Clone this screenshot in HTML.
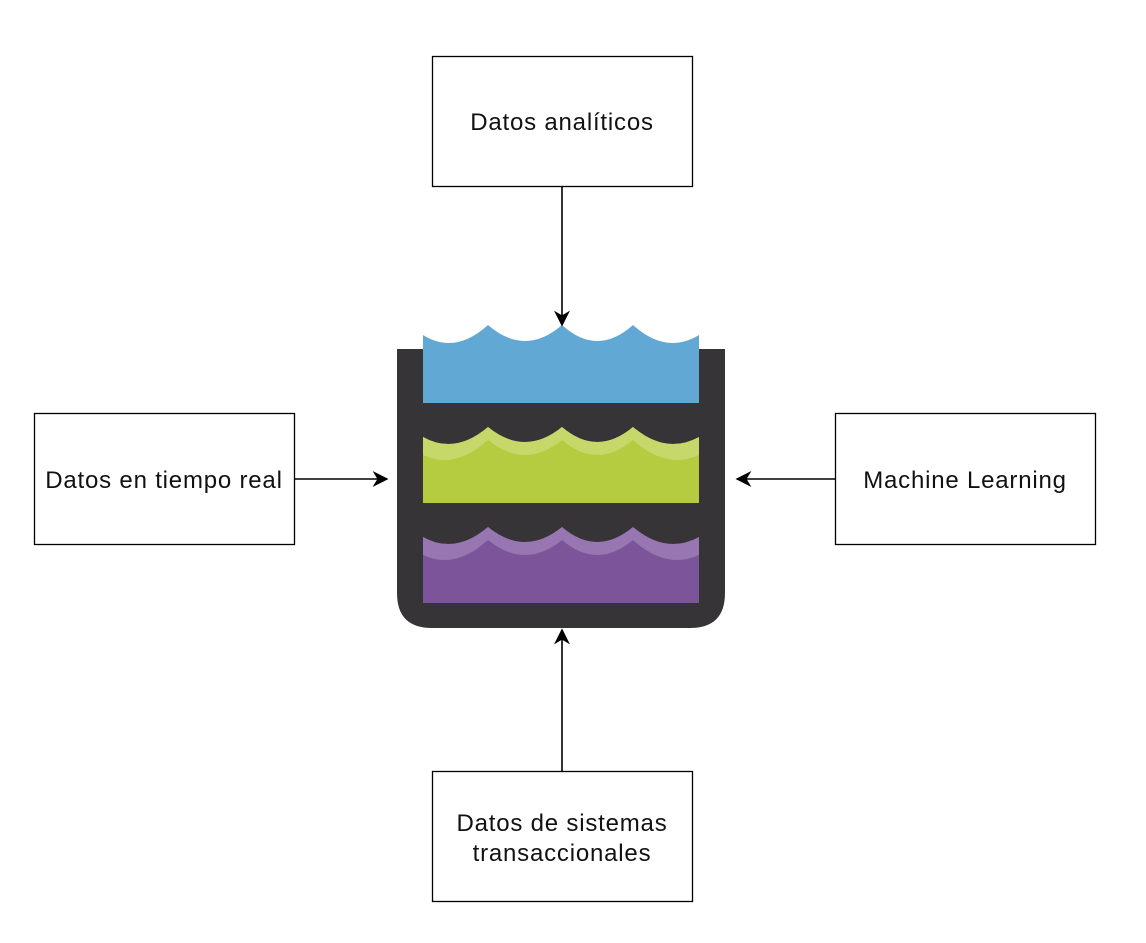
<!DOCTYPE html>
<html><head><style>
body{margin:0;background:#fff;}
svg{display:block;}
text{font-family:"Liberation Sans",Arial,sans-serif;font-size:24px;letter-spacing:0.8px;fill:#111;}
</style></head><body>
<svg width="1146" height="943" viewBox="0 0 1146 943">
<defs>
<marker id="b" viewBox="0 0 10 10" markerWidth="16" markerHeight="16" refX="9" refY="5" orient="auto" markerUnits="userSpaceOnUse"><path d="M0,0 L10,5 L0,10 L3,5 z" fill="#000"/></marker></defs>
<path d="M397,349 H725 V593 Q725,628 690,628 H432 Q397,628 397,593 Z" fill="#363437"/>
<path d="M423,403 V335 Q455,355 488,325 Q525,357 562,325 Q597,357 633,325 Q666,355 699,335 V403 Z" fill="#62a8d4"/>
<path d="M423,503 V437 Q455,455 488,427 Q525,457 562,427 Q597,457 633,427 Q666,455 699,437 V503 Z" fill="#b5cb40"/>
<path d="M423,455 V437 Q455,455 488,427 Q525,457 562,427 Q597,457 633,427 Q666,455 699,437 V455 Q666,470 633,440 Q597,470 562,440 Q525,470 488,440 Q455,470 423,455 Z" fill="#c6d86a"/>
<path d="M423,603 V537 Q455,555 488,527 Q525,557 562,527 Q597,557 633,527 Q666,555 699,537 V603 Z" fill="#7c5499"/>
<path d="M423,555 V537 Q455,555 488,527 Q525,557 562,527 Q597,557 633,527 Q666,555 699,537 V555 Q666,570 633,540 Q597,570 562,540 Q525,570 488,540 Q455,570 423,555 Z" fill="#9876b2"/>
<g fill="#fff" stroke="#000" stroke-width="1.3">
<rect x="432.5" y="56.5" width="260" height="130"/>
<rect x="34.5" y="413.5" width="260" height="131"/>
<rect x="835.5" y="413.5" width="260" height="131"/>
<rect x="432.5" y="771.5" width="260" height="130"/>
</g>
<g stroke="#000" stroke-width="1.6">
<line x1="562" y1="187" x2="562" y2="325" marker-end="url(#b)"/>
<line x1="295" y1="479" x2="387" y2="479" marker-end="url(#b)"/>
<line x1="835" y1="479" x2="737" y2="479" marker-end="url(#b)"/>
<line x1="562" y1="771" x2="562" y2="630" marker-end="url(#b)"/>
</g>
<text x="562" y="130" text-anchor="middle">Datos analíticos</text>
<text x="164" y="488" text-anchor="middle">Datos en tiempo real</text>
<text x="965" y="488" text-anchor="middle">Machine Learning</text>
<text x="562" y="831" text-anchor="middle">Datos de sistemas</text>
<text x="562" y="861" text-anchor="middle">transaccionales</text>
</svg>
</body></html>
